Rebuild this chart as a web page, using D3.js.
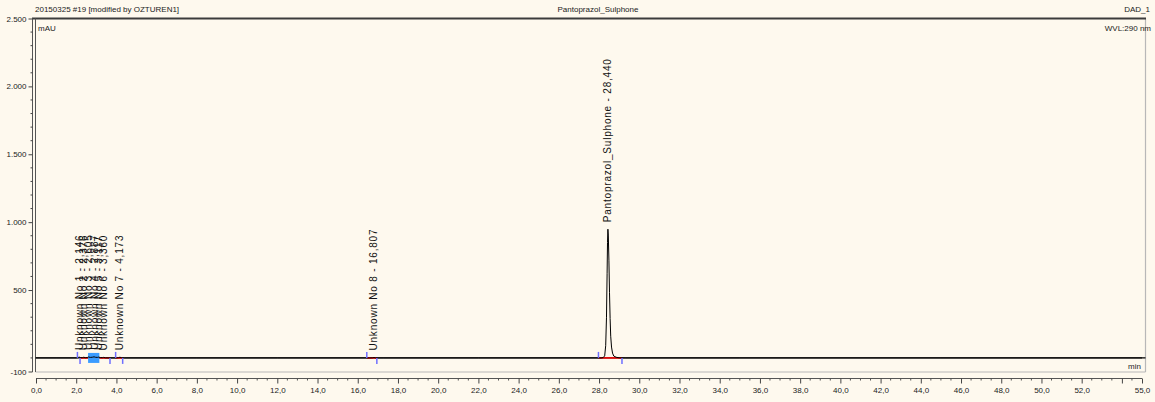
<!DOCTYPE html>
<html>
<head>
<meta charset="utf-8">
<script src="https://cdn.jsdelivr.net/npm/d3@7"></script>
<style>
  html, body { margin: 0; padding: 0; background: #FEF9EE; }
  svg { display: block; font-family: "Liberation Sans", Arial, sans-serif; }
</style>
</head>
<body>
<svg id="chart" width="1155" height="402"></svg>
<script>
// ---------- data ----------
const headerLeft = "20150325 #19 [modified by OZTUREN1]";
const headerCenter = "Pantoprazol_Sulphone";
const headerRight = "DAD_1";
const yUnit = "mAU";
const wvlLabel = "WVL:290 nm";
const xUnit = "min";

const xTickValues = [0, 2, 4, 6, 8, 10, 12, 14, 16, 18, 20, 22, 24, 26, 28, 30, 32, 34, 36, 38, 40, 42, 44, 46, 48, 50, 52, 54, 55];
const xTickLabels = ["0,0", "2,0", "4,0", "6,0", "8,0", "10,0", "12,0", "14,0", "16,0", "18,0", "20,0", "22,0", "24,0", "26,0", "28,0", "30,0", "32,0", "34,0", "36,0", "38,0", "40,0", "42,0", "44,0", "46,0", "48,0", "50,0", "52,0", "", "55,0"];
const yTickValues = [2500, 2000, 1500, 1000, 500, -100];
const yTickLabels = ["2.500", "2.000", "1.500", "1.000", "500", "-100"];

// chromatogram trace (min, mAU)
const traceTime = [0, 1.0, 2.0, 2.08, 2.146, 2.20, 2.30, 2.376, 2.45, 2.55, 2.605, 2.70, 2.80, 2.887, 2.95, 3.05, 3.117, 3.20, 3.30, 3.360, 3.45, 3.70, 4.0, 4.10, 4.173, 4.25, 4.4, 8, 12, 16.4, 16.6, 16.75, 16.807, 16.87, 17.0, 17.3, 22, 27.8, 28.1, 28.2, 28.28, 28.33, 28.37, 28.40, 28.42, 28.44, 28.46, 28.49, 28.52, 28.55, 28.58, 28.62, 28.67, 28.73, 28.85, 29.0, 29.3, 35, 45, 55];
const traceMAU  = [0, 0, 0, 2, 6, 3, 2, 5, 2, 3, 7, 4, 5, 8, 5, 4, 6, 3, 2, 4, 1, 0, 0, 2, 5, 2, 0, 0, 0, 0, 0, 1, 3, 1, 0, 0, 0, 0, 0, 2, 15, 90, 300, 620, 850, 948, 905, 720, 480, 290, 160, 80, 36, 14, 5, 1, 0, 0, 0, 0];

// peaks
const peakNames = ["Unknown No 1", "Unknown No 2", "Unknown No 3", "Unknown No 4", "Unknown No 5", "Unknown No 6", "Unknown No 7", "Unknown No 8", "Pantoprazol_Sulphone"];
const peakTimes = [2.146, 2.376, 2.605, 2.887, 3.117, 3.360, 4.173, 16.807, 28.440];
const peakApex  = [6, 5, 7, 8, 6, 4, 5, 3, 948];

// integration baselines and delimiters (min)
const baseSegStart = [2.19, 3.15, 3.96, 16.45, 27.97];
const baseSegEnd   = [2.59, 3.68, 4.31, 16.95, 29.14];
const startMarks = [2.06, 3.96, 16.45, 27.97];
const endMarks   = [2.19, 3.68, 4.31, 16.95, 29.14];
const clusterStart = [2.59];
const clusterEnd   = [3.15];

// ---------- drawing ----------
const svg = d3.select("#chart");
const W = 1155, H = 402;
const L = 35.5, R = 1145.5, T = 18.5, B = 372;

const x = d3.scaleLinear().domain([0, 55]).range([36, 1142]);
const y = d3.scaleLinear().domain([-100, 2500]).range([371.5, 18.5]);

svg.append("rect").attr("width", W).attr("height", H).attr("fill", "#FEF9EE");

// frame
svg.append("line").attr("x1", R).attr("x2", R).attr("y1", T).attr("y2", B).attr("stroke", "#b8b8b8").attr("stroke-width", 1.2);
svg.append("line").attr("x1", L).attr("x2", R).attr("y1", B).attr("y2", B).attr("stroke", "#b8b8b8").attr("stroke-width", 1.2);
svg.append("line").attr("x1", 32).attr("x2", R + 0.5).attr("y1", T).attr("y2", T).attr("stroke", "#3c3c3c").attr("stroke-width", 2);
svg.append("line").attr("x1", L).attr("x2", L).attr("y1", T).attr("y2", B).attr("stroke", "#555").attr("stroke-width", 1);

// header texts
const hdr = svg.append("g").attr("font-size", 8).attr("fill", "#222");
hdr.append("text").attr("x", 35).attr("y", 12).text(headerLeft);
hdr.append("text").attr("x", 598).attr("y", 12).attr("text-anchor", "middle").text(headerCenter);
hdr.append("text").attr("x", 1150).attr("y", 12).attr("text-anchor", "end").text(headerRight);
hdr.append("text").attr("x", 38).attr("y", 31).text(yUnit);
hdr.append("text").attr("x", 1151).attr("y", 31).attr("text-anchor", "end").text(wvlLabel);
hdr.append("text").attr("x", 1141).attr("y", 369).attr("text-anchor", "end").text(xUnit);

// y axis
const yAxis = d3.axisLeft(y).tickValues(yTickValues).tickSize(4).tickPadding(2)
  .tickFormat((d, i) => yTickLabels[i]);
const gy = svg.append("g").attr("transform", "translate(32.5,0)").call(yAxis);
gy.select(".domain").attr("stroke", "#555").attr("d", `M0,${T}V${B}`);
gy.selectAll(".tick line").attr("stroke", "#444");
gy.selectAll("text").attr("font-size", 8).attr("fill", "#222").attr("font-family", "Liberation Sans, Arial, sans-serif");
const yMinor = d3.range(-100, 2501, 100).filter(v => yTickValues.indexOf(v) < 0);
gy.selectAll(".minor").data(yMinor).join("line").attr("class", "minor")
  .attr("x1", -2).attr("x2", 0).attr("y1", d => y(d)).attr("y2", d => y(d)).attr("stroke", "#444");

// x axis
const xAxisY = 378.5;
const xAxis = d3.axisBottom(x).tickValues(xTickValues).tickSize(5).tickPadding(4)
  .tickFormat((d, i) => xTickLabels[i]);
const gx = svg.append("g").attr("transform", `translate(0,${xAxisY})`).call(xAxis);
gx.select(".domain").attr("stroke", "#555").attr("d", `M${x(0)},0H${x(55)}`);
gx.selectAll(".tick line").attr("stroke", "#444");
gx.selectAll("text").attr("font-size", 8).attr("fill", "#222").attr("font-family", "Liberation Sans, Arial, sans-serif");
const xMinor = d3.range(0, 55.01, 0.5).filter(v => xTickValues.indexOf(v) < 0);
gx.selectAll(".minor").data(xMinor).join("line").attr("class", "minor")
  .attr("x1", d => x(d)).attr("x2", d => x(d)).attr("y1", 0).attr("y2", 2).attr("stroke", "#555");

// baseline at zero
svg.append("line").attr("x1", L).attr("x2", R).attr("y1", y(0)).attr("y2", y(0)).attr("stroke", "#000").attr("stroke-width", 1.2);

// integration baselines (red)
svg.selectAll(".bseg").data(baseSegStart).join("line").attr("class", "bseg")
  .attr("x1", d => x(d)).attr("x2", (d, i) => x(baseSegEnd[i]))
  .attr("y1", y(0)).attr("y2", y(0)).attr("stroke", "#ff0000").attr("stroke-width", 1.5);

// cluster (dense delimiters)
svg.selectAll(".clus").data(clusterStart).join("rect").attr("class", "clus")
  .attr("x", d => x(d)).attr("width", (d, i) => x(clusterEnd[i]) - x(d))
  .attr("y", y(0) - 5).attr("height", 10).attr("fill", "#3b9cff");

// trace
const line = d3.line().x((d, i) => x(traceTime[i])).y(d => y(d));
svg.append("path").datum(traceMAU).attr("d", line).attr("fill", "none").attr("stroke", "#000").attr("stroke-width", 1);

// delimiters
svg.selectAll(".smark").data(startMarks).join("line").attr("class", "smark")
  .attr("x1", d => x(d)).attr("x2", d => x(d)).attr("y1", y(0) - 6).attr("y2", y(0))
  .attr("stroke", "#6f6fff").attr("stroke-width", 1.5);
svg.selectAll(".emark").data(endMarks).join("line").attr("class", "emark")
  .attr("x1", d => x(d)).attr("x2", d => x(d)).attr("y1", y(0)).attr("y2", y(0) + 6)
  .attr("stroke", "#6f6fff").attr("stroke-width", 1.5);

// peak labels
const fmt = d3.format(".3f");
svg.selectAll(".plabel").data(peakNames).join("text").attr("class", "plabel")
  .attr("transform", (d, i) => `translate(${x(peakTimes[i])},${y(peakApex[i]) - 7}) rotate(-90)`)
  .attr("dy", "0.35em").attr("font-size", 10).attr("fill", "#111").attr("letter-spacing", 0.8)
  .text((d, i) => `${d} - ${fmt(peakTimes[i]).replace(".", ",")}`);
</script>
</body>
</html>
